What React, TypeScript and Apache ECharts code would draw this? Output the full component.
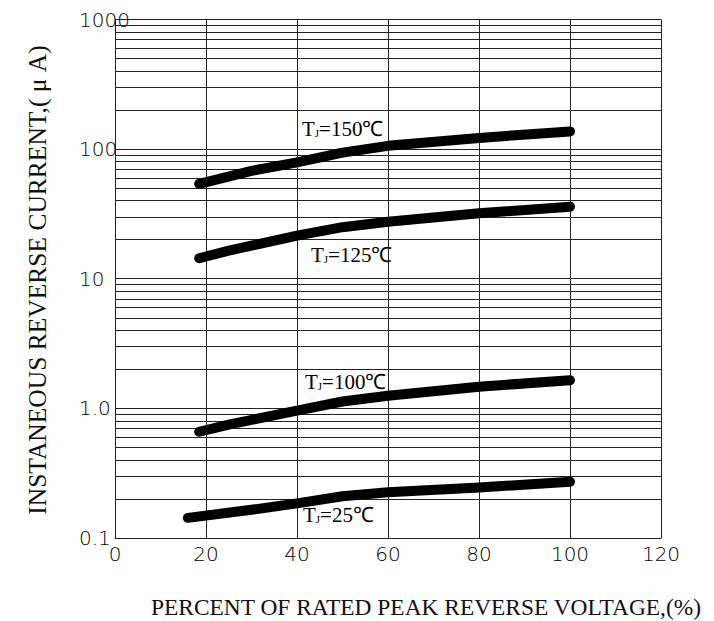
import React, { useEffect, useRef } from 'react';
import * as echarts from 'echarts';

// ---- data ----
const xTicks = [0, 20, 40, 60, 80, 100, 120];
const yTickValues = [0.1, 1, 10, 100, 1000];
const yTickLabels = ['0.1', '1.0', '10', '100', '1000'];
const minorGridValues = [
  0.2, 0.3, 0.4, 0.5, 0.6, 0.7, 0.8, 0.9,
  2, 3, 4, 5, 6, 7, 8, 9,
  20, 30, 40, 50, 60, 70, 80, 90,
  200, 300, 400, 500, 600, 700, 800, 900,
];

const tj150X = [18.5, 30, 40, 50, 60, 80, 100];
const tj150Y = [54, 68, 79, 94, 106, 122, 137];
const tj125X = [18.5, 25, 40, 50, 60, 80, 100];
const tj125Y = [14.4, 16.5, 21.5, 25, 27.5, 32, 36];
const tj100X = [18.5, 25, 40, 50, 60, 80, 100];
const tj100Y = [0.66, 0.75, 0.96, 1.13, 1.25, 1.47, 1.65];
const tj25X = [16, 30, 40, 50, 60, 80, 100];
const tj25Y = [0.143, 0.165, 0.185, 0.21, 0.225, 0.245, 0.272];

const curveLabels = ['150', '125', '100', '25'];

const xTitle = 'PERCENT OF RATED PEAK REVERSE VOLTAGE,(%)';
const yTitle = 'INSTANEOUS REVERSE CURRENT,( μ A)';

const zip = (xs: number[], ys: number[]) => xs.map((x, i) => [x, ys[i]]);

const serif = '"Liberation Serif", "Times New Roman", serif';
const sans = '"DejaVu Sans", sans-serif';

function curveText(temp: string, x: number, y: number) {
  return {
    type: 'text',
    x,
    y,
    style: {
      text: `{t|T}{s|J}{t|=${temp}℃}`,
      verticalAlign: 'middle',
      align: 'left',
      rich: {
        t: { fontFamily: serif, fontSize: 21, fill: '#000' },
        s: { fontFamily: serif, fontSize: 11, fill: '#000', padding: [8, 0, 0, 0] },
      },
    },
  };
}

export default function App() {
  const ref = useRef<HTMLDivElement>(null);
  useEffect(() => {
    if (!ref.current) return;
    const chart = echarts.init(ref.current, undefined, { renderer: 'svg' });
    const lineColor = '#222';
    const curveStyle = { width: 10, color: '#000', cap: 'round', join: 'round' };
    const labelMap: Record<string, string> = {};
    yTickValues.forEach((v, i) => (labelMap[String(v)] = yTickLabels[i]));
    chart.setOption({
      animation: false,
      backgroundColor: '#fff',
      grid: { left: 115, right: 53, top: 19.5, bottom: 83, containLabel: false },
      xAxis: {
        type: 'value',
        min: xTicks[0],
        max: xTicks[xTicks.length - 1],
        interval: 20,
        axisLine: { show: true, lineStyle: { color: lineColor, width: 1 } },
        axisTick: { show: false },
        splitLine: { show: true, lineStyle: { color: lineColor, width: 1 } },
        axisLabel: {
          margin: 6,
          fontFamily: sans,
          fontWeight: 200,
          fontSize: 20,
          color: '#000',
        },
      },
      yAxis: {
        type: 'log',
        logBase: 10,
        min: yTickValues[0],
        max: yTickValues[yTickValues.length - 1],
        axisLine: { show: true, lineStyle: { color: lineColor, width: 1 } },
        axisTick: { show: false },
        splitLine: { show: true, lineStyle: { color: lineColor, width: 1 } },
        minorSplitLine: { show: false },
        axisLabel: {
          align: 'left',
          margin: 36,
          fontFamily: sans,
          fontWeight: 200,
          fontSize: 20,
          color: '#000',
          formatter: (v: number) => {
            const key = String(Math.round(v * 10) / 10);
            return labelMap[key] ?? String(v);
          },
        },
      },
      graphic: [
        curveText(curveLabels[0], 302, 129),
        curveText(curveLabels[1], 311, 255),
        curveText(curveLabels[2], 305, 382),
        curveText(curveLabels[3], 303, 515),
        {
          type: 'text',
          x: 426,
          y: 607,
          style: {
            text: xTitle,
            fontFamily: serif,
            fontSize: 23.4,
            fill: '#111',
            align: 'center',
            verticalAlign: 'middle',
          },
        },
        {
          type: 'text',
          x: 37,
          y: 280,
          rotation: Math.PI / 2,
          style: {
            text: yTitle,
            fontFamily: serif,
            fontSize: 25.5,
            fill: '#111',
            align: 'center',
            verticalAlign: 'middle',
          },
        },
      ],
      series: [
        {
          type: 'line',
          data: zip(tj150X, tj150Y),
          showSymbol: false,
          symbol: 'none',
          lineStyle: curveStyle,
          z: 5,
          markLine: {
            silent: true,
            symbol: ['none', 'none'],
            label: { show: false },
            lineStyle: { type: 'solid', color: lineColor, width: 1 },
            data: minorGridValues.map((v) => ({ yAxis: v })),
            z: 1,
          },
        },
        { type: 'line', data: zip(tj125X, tj125Y), showSymbol: false, symbol: 'none', lineStyle: curveStyle, z: 5 },
        { type: 'line', data: zip(tj100X, tj100Y), showSymbol: false, symbol: 'none', lineStyle: curveStyle, z: 5 },
        { type: 'line', data: zip(tj25X, tj25Y), showSymbol: false, symbol: 'none', lineStyle: curveStyle, z: 5 },
      ],
    });
    return () => chart.dispose();
  }, []);
  return (
    <div
      ref={ref}
      style={{ position: 'fixed', left: 0, top: 0, width: 714, height: 621, background: '#fff' }}
    />
  );
}
